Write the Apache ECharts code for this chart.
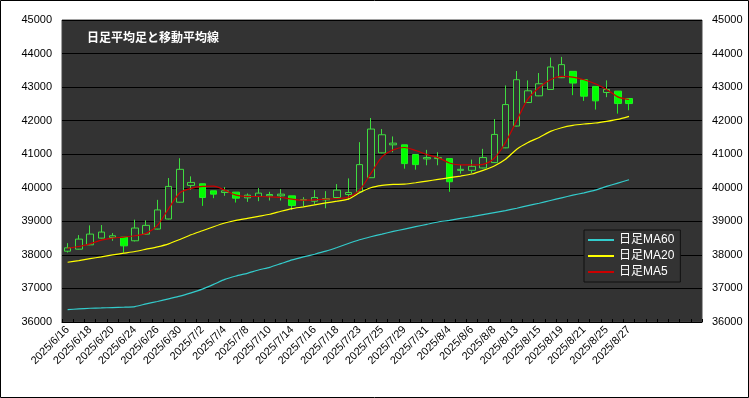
<!DOCTYPE html>
<html><head><meta charset="utf-8">
<script src="https://cdn.jsdelivr.net/npm/echarts@6/dist/echarts.min.js"></script>
<style>html,body{margin:0;padding:0;background:#fff}#c{width:749px;height:398px}</style>
</head><body><div id="c"></div>
<script>
const categories = [
 '2025/6/16','2025/6/17','2025/6/18','2025/6/19','2025/6/20','2025/6/23','2025/6/24','2025/6/25','2025/6/26','2025/6/27',
 '2025/6/30','2025/7/1','2025/7/2','2025/7/3','2025/7/4','2025/7/7','2025/7/8','2025/7/9','2025/7/10','2025/7/11',
 '2025/7/14','2025/7/15','2025/7/16','2025/7/17','2025/7/18','2025/7/22','2025/7/23','2025/7/24','2025/7/25','2025/7/28',
 '2025/7/29','2025/7/30','2025/7/31','2025/8/1','2025/8/4','2025/8/5','2025/8/6','2025/8/7','2025/8/8','2025/8/12',
 '2025/8/13','2025/8/14','2025/8/15','2025/8/18','2025/8/19','2025/8/20','2025/8/21','2025/8/22','2025/8/25','2025/8/26',
 '2025/8/27','','','','','',''
];
// Heikin-Ashi: [open, close, low, high]
const haOpen  = [38110,38170,38300,38500,38520,38530,38420,38620,38770,39070,39570,40070,40120,39910,39860,39870,39700,39740,39760,39760,39760,39630,39600,39640,39710,39800,39880,40300,41040,41280,41280,40990,40860,40870,40870,40520,40520,40590,40750,41190,41840,42540,42740,42930,43280,43470,43220,43020,42840,42880,42660];
const haClose = [38210,38470,38620,38680,38570,38270,38800,38880,39340,40040,40550,40160,39710,39810,39910,39690,39780,39840,39800,39810,39470,39650,39710,39680,39930,39860,40690,41750,41580,41330,40720,40690,40900,40900,40180,40550,40640,40900,41590,42480,43220,42890,43100,43600,43670,43120,42730,42590,42930,42510,42510];
const haLow   = [38070,38160,38290,38490,38420,38070,38400,38610,38760,39060,39560,39940,39460,39690,39760,39560,39580,39600,39620,39620,39340,39450,39520,39390,39700,39640,39870,40290,41030,41060,40570,40540,40670,40670,39880,40420,40440,40580,40740,41180,41830,42530,42730,42920,43270,42760,42590,42330,42700,42210,42310];
const haHigh  = [38350,38590,38880,38890,38650,38530,39050,39030,39640,40290,40880,40340,40120,39910,40020,39870,39830,39990,39880,39960,39760,39720,39930,39900,40110,40280,41360,42080,41750,41530,41280,40990,41130,41060,40870,40680,40840,41160,42050,43050,43480,43200,43420,43880,43900,43470,43220,43020,43200,42880,42660];
const ma60 = [36370,36390,36410,36420,36430,36440,36460,36540,36610,36690,36770,36870,36980,37120,37270,37370,37450,37550,37630,37740,37850,37940,38020,38110,38220,38340,38450,38540,38620,38700,38770,38840,38910,38980,39030,39090,39140,39200,39260,39320,39390,39470,39540,39620,39700,39780,39850,39930,40040,40140,40240];
const ma20 = [37780,37830,37890,37940,38000,38050,38100,38170,38240,38330,38460,38600,38720,38840,38950,39030,39090,39150,39210,39300,39380,39430,39490,39550,39600,39660,39850,40000,40070,40100,40110,40150,40200,40250,40300,40350,40410,40520,40650,40850,41150,41350,41500,41680,41790,41860,41900,41930,41980,42040,42130];
const ma5  = [38200,38250,38330,38440,38500,38530,38570,38640,38880,39380,39850,39980,40040,40050,39930,39780,39740,39740,39730,39710,39660,39630,39640,39660,39680,39720,39930,40420,40920,41130,41200,41110,40990,40900,40740,40680,40680,40700,40880,41350,42000,42650,42990,43220,43320,43300,43220,43100,42930,42710,42630];
const yTicks = {min:36000, max:45000, interval:1000};
const titleText = '日足平均足と移動平均線';
const seriesNames = ['日足MA60','日足MA20','日足MA5'];

const candles = haOpen.map((o,i)=>[o, haClose[i], haLow[i], haHigh[i]]);
const FONT = '"Liberation Sans","Noto Sans CJK JP",sans-serif';
const chart = echarts.init(document.getElementById('c'), null, {renderer:'canvas'});
const yAxisCommon = {
  type:'value', min:yTicks.min, max:yTicks.max, interval:yTicks.interval,
  axisLine:{show:false}, axisTick:{show:false},
  axisLabel:{color:'#000', fontSize:11, fontFamily:FONT, margin:10, formatter:v=>String(v)}
};
const lineIcon = 'path://M0,0H26V2H0Z';
chart.setOption({
  animation:false,
  backgroundColor:'#fff',
  grid:{left:62, top:20, width:640, height:302, show:true, backgroundColor:'#333333', borderColor:'#444', borderWidth:1},
  xAxis:{type:'category', data:categories, boundaryGap:true,
    axisLine:{show:true, lineStyle:{color:'#000', width:1}},
    axisTick:{show:true, inside:true, length:3, interval:0, lineStyle:{color:'#000'}},
    axisLabel:{interval:1, rotate:45, color:'#000', fontSize:11, fontFamily:FONT, margin:6},
    splitLine:{show:false}},
  yAxis:[
    Object.assign({}, yAxisCommon, {position:'left', splitLine:{show:true, lineStyle:{color:'#000', width:1}}}),
    Object.assign({}, yAxisCommon, {position:'right', splitLine:{show:false}})
  ],
  legend:{data:seriesNames.map(n=>({name:n, icon:lineIcon})), orient:'vertical', left:584, top:230, padding:[3,6,3,4], itemGap:2,
    itemWidth:26, itemHeight:2, textStyle:{color:'#fff', fontSize:12, lineHeight:14, fontFamily:FONT},
    backgroundColor:'#333333', borderColor:'#111', borderWidth:1},
  graphic:[
    {type:'text', left:87, top:31, style:{text:titleText, fill:'#fff', font:'bold 12px "Noto Sans CJK JP",sans-serif'}},
    {type:'rect', shape:{x:0.5,y:0.5,width:748,height:397}, style:{fill:'none', stroke:'#000', lineWidth:1}, silent:true}
  ],
  series:[
    {type:'candlestick', name:'HA', data:candles, barWidth:7,
      itemStyle:{color:'#333333', color0:'#00ff00', borderColor:'#3fdc3f', borderColor0:'#22ee22', borderWidth:1}},
    {type:'line', name:seriesNames[0], data:ma60, symbol:'none', smooth:0.2, lineStyle:{color:'#33cccc', width:1.2}, itemStyle:{color:'#33cccc'}},
    {type:'line', name:seriesNames[1], data:ma20, symbol:'none', smooth:0.2, lineStyle:{color:'#ffff00', width:1.2}, itemStyle:{color:'#ffff00'}},
    {type:'line', name:seriesNames[2], data:ma5, symbol:'none', smooth:0.3, lineStyle:{color:'#cc0000', width:1.2}, itemStyle:{color:'#cc0000'}}
  ]
});
</script></body></html>
